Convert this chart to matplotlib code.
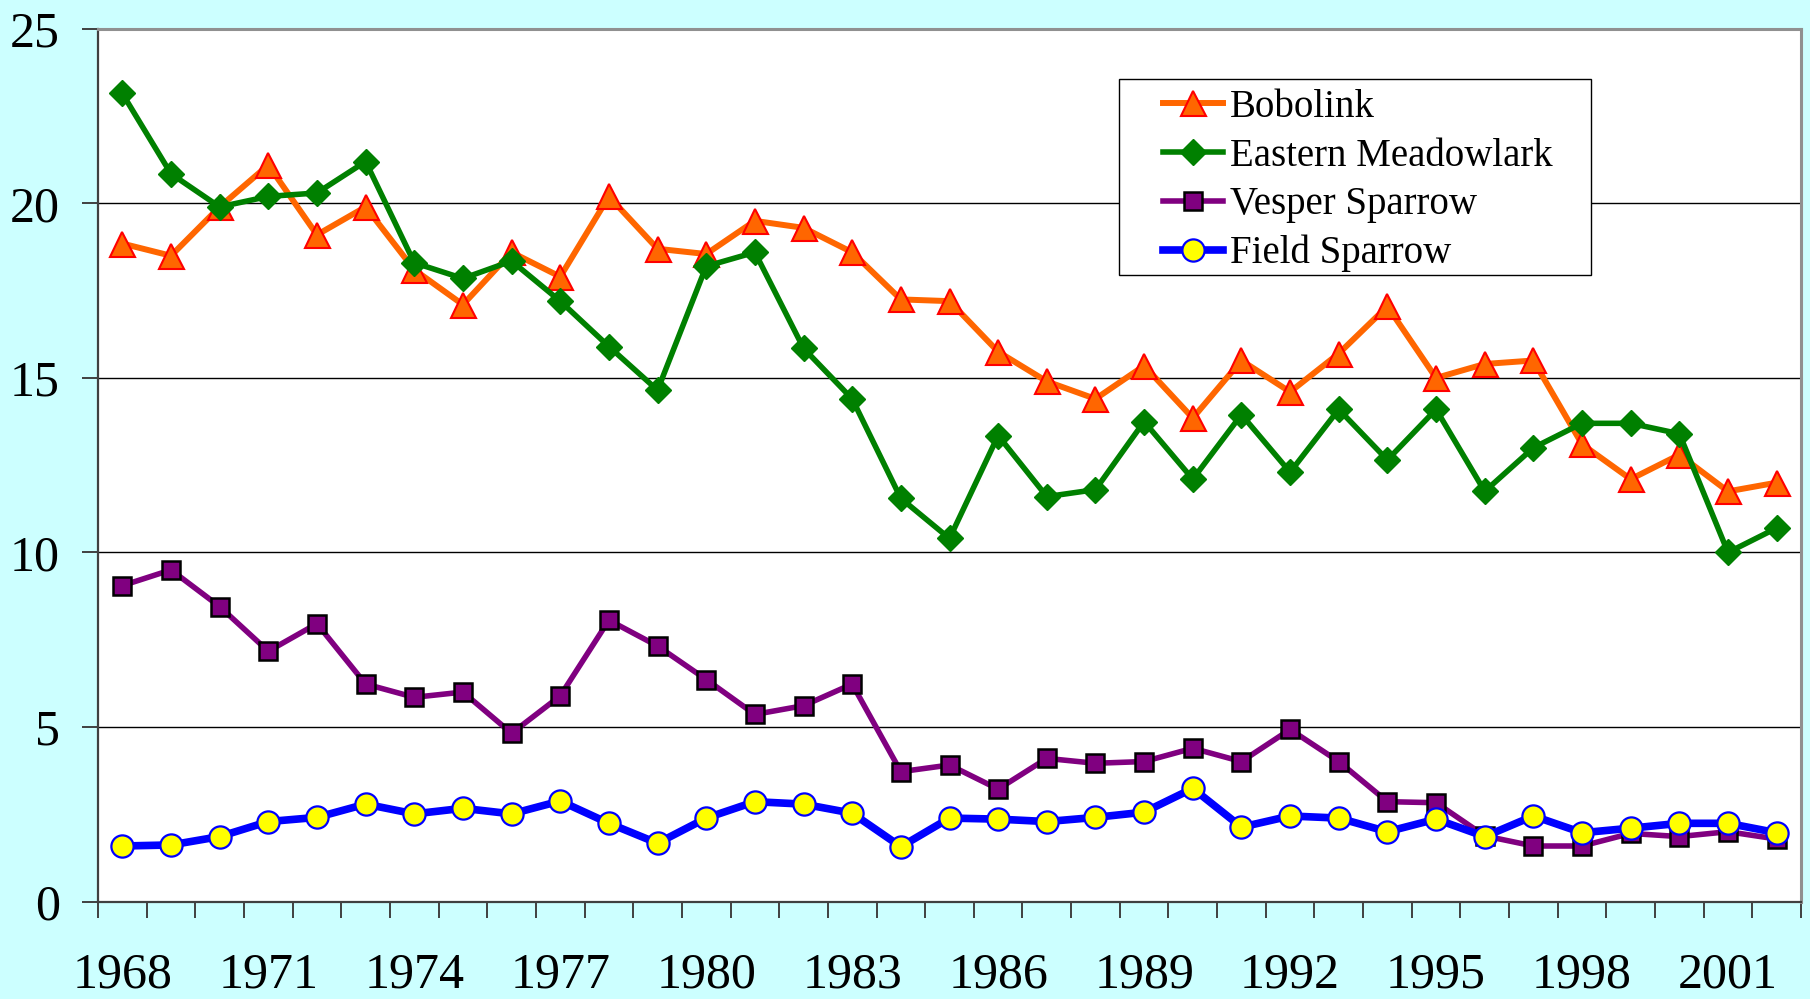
import matplotlib
matplotlib.use("Agg")
import matplotlib.pyplot as plt
from matplotlib.ticker import FixedLocator, NullFormatter
from matplotlib.patches import Rectangle

years = list(range(1968, 2003))

bobolink = [18.85, 18.5, 19.9, 21.1, 19.1, 19.9, 18.1, 17.1, 18.6, 17.9,
            20.2, 18.7, 18.55, 19.5, 19.3, 18.6, 17.25, 17.2, 15.75, 14.9,
            14.4, 15.35, 13.85, 15.5, 14.6, 15.7, 17.05, 15.0, 15.4, 15.5,
            13.1, 12.1, 12.8, 11.75, 12.0]
meadowlark = [23.15, 20.85, 19.9, 20.2, 20.3, 21.2, 18.3, 17.85, 18.35, 17.2,
              15.9, 14.65, 18.2, 18.6, 15.85, 14.4, 11.55, 10.4, 13.35, 11.6,
              11.8, 13.75, 12.1, 13.95, 12.3, 14.1, 12.65, 14.1, 11.75, 13.0,
              13.7, 13.7, 13.4, 10.0, 10.7]
vesper = [9.05, 9.5, 8.45, 7.17, 7.96, 6.23, 5.85, 6.0, 4.82, 5.89,
          8.06, 7.32, 6.36, 5.36, 5.61, 6.23, 3.72, 3.91, 3.22, 4.1,
          3.96, 4.01, 4.39, 4.01, 4.93, 4.01, 2.86, 2.83, 1.88, 1.59,
          1.59, 1.95, 1.86, 2.0, 1.79]
field = [1.59, 1.62, 1.86, 2.29, 2.41, 2.79, 2.51, 2.67, 2.51, 2.88,
         2.24, 1.67, 2.39, 2.86, 2.79, 2.53, 1.57, 2.39, 2.36, 2.29,
         2.41, 2.56, 3.24, 2.13, 2.45, 2.39, 2.0, 2.36, 1.86, 2.45,
         1.97, 2.1, 2.24, 2.24, 1.97]

series_names = ["Bobolink", "Eastern Meadowlark", "Vesper Sparrow", "Field Sparrow"]
y_ticks = [0, 5, 10, 15, 20, 25]

plt.rcParams['font.family'] = ['Liberation Serif', 'DejaVu Serif']

W, H = 1810, 999
fig = plt.figure(figsize=(W / 100, H / 100), dpi=100)
fig.patch.set_facecolor('#CCFFFF')

ax = fig.add_axes([98 / W, (H - 901.5) / H, 1703 / W, 872.6 / H])
ax.set_facecolor('white')

x = list(range(len(years)))

ax.plot(x, bobolink, color='#FF6600', lw=4.3, marker='^', ms=18,
        mfc='#FF6600', mec='#FF0000', mew=1.5, label=series_names[0], zorder=3)
ax.plot(x, meadowlark, color='#008000', lw=4.0, marker='D', ms=13.5,
        mfc='#008000', mec='#008000', mew=1, label=series_names[1], zorder=4)
ax.plot(x, vesper, color='#800080', lw=4.0, marker='s', ms=13.5,
        mfc='#800080', mec='#000000', mew=1.8, label=series_names[2], zorder=5)
ax.plot(x, field, color='#0000FF', lw=5.5, marker='o', ms=16,
        mfc='#FFFF00', mec='#0000FF', mew=1.6, label=series_names[3], zorder=6)

ax.set_xlim(-0.5, len(years) - 0.5)
ax.set_ylim(0, 25)

ax.set_yticks(y_ticks)
ax.set_yticklabels([str(v) for v in y_ticks])
ax.yaxis.grid(True, color='black', lw=1.0)
ax.set_axisbelow(True)

major_pos = [i for i in x if (years[i] - 1968) % 3 == 0]
ax.set_xticks(major_pos)
ax.set_xticklabels([str(years[i]) for i in major_pos])
ax.xaxis.set_minor_locator(FixedLocator([i - 0.5 for i in range(len(years) + 1)]))
ax.xaxis.set_minor_formatter(NullFormatter())

ax.tick_params(axis='x', which='major', length=0, pad=36, labelsize=36)
ax.tick_params(axis='x', which='minor', length=11.5, width=1.4, color='#404040', direction='out')
ax.tick_params(axis='y', which='major', length=11.5, width=1.4, color='#404040',
               direction='out', pad=16, labelsize=36)

for side in ['left', 'bottom']:
    ax.spines[side].set_color('#404040')
    ax.spines[side].set_linewidth(1.6)
for side in ['top', 'right']:
    ax.spines[side].set_color('#909090')
    ax.spines[side].set_linewidth(2.2)

# legend frame (box) in figure pixels
box_l, box_r, box_t, box_b = 1118.5, 1591.0, 78.7, 274.5
fig.patches.append(Rectangle((box_l / W, (H - box_b) / H), (box_r - box_l) / W,
                             (box_b - box_t) / H, transform=fig.transFigure,
                             facecolor='white', edgecolor='black', lw=1.0, zorder=8))

fs_px = 28 / 72 * 100
leg = fig.legend(loc='upper left', bbox_to_anchor=(1162.5 / W, (H - 89.0) / H),
                 bbox_transform=fig.transFigure, fontsize=28, frameon=False,
                 handlelength=60 / fs_px, handletextpad=7 / fs_px,
                 labelspacing=0.30, borderpad=0, borderaxespad=0)
leg.set_zorder(10)

fig.savefig('out.png', dpi=100, facecolor=fig.get_facecolor())
